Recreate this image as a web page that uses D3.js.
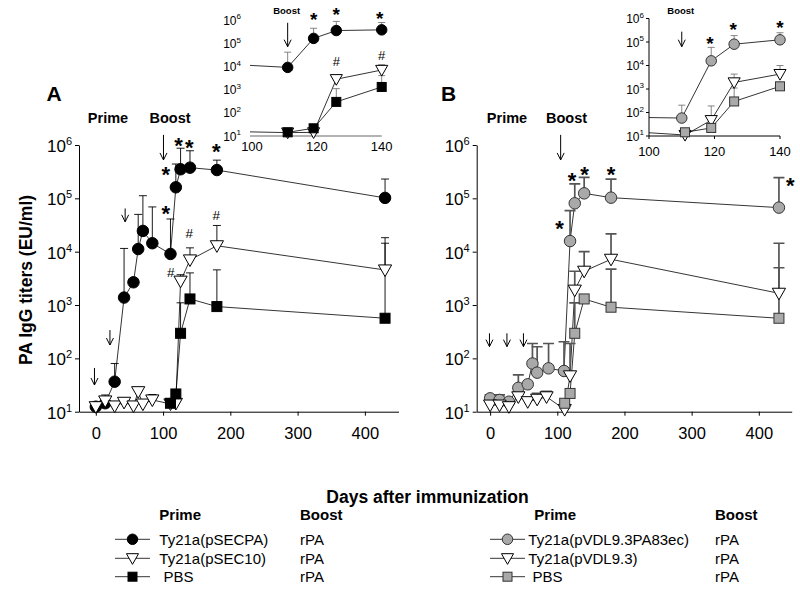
<!DOCTYPE html>
<html><head><meta charset="utf-8">
<script src="https://cdn.jsdelivr.net/npm/d3@7/dist/d3.min.js"></script>
<style>
body{margin:0;background:#fff}
svg{display:block}
text{font-family:"Liberation Sans",Arial,Helvetica,sans-serif;fill:#000}
</style>
</head><body>
<svg id="c" width="800" height="595"></svg>
<script>
// ---------------- DATA ----------------
// Panel A: Ty21a(pSECPA) (circles), Ty21a(pSEC10) (triangles), PBS (squares)
const daysA1  = [0,14,28,42,56,63,70,84,111,119,126,140,180,430];
const titerA1 = [12.4,14.4,36.5,1380,2670,11200,24500,14400,9060,161000,351000,376000,339000,102000];
const upperA1 = [null,null,80,11500,null,50000,112000,69000,41000,440000,870000,780000,520000,230000];
const daysA2  = [0,14,28,42,56,63,70,84,111,119,126,140,180,430];
const titerA2 = [12.4,15.9,12.8,15,12.8,23.7,13.9,16.6,14,14.3,2800,7000,12900,4540];
const upperA2 = [null,20.6,null,17.8,null,null,16.6,21,null,null,3700,11800,31000,18300];
const daysA3  = [111,119,126,140,180,430];
const titerA3 = [14.4,21.5,295,1300,935,565];
const upperA3 = [null,null,1100,4000,4560,14400];

// Panel B: Ty21a(pVDL9.3PA83ec) (circles), Ty21a(pVDL9.3) (triangles), PBS (squares)
const daysB1  = [0,14,28,42,56,63,70,87,110,119,126,140,180,430];
const titerB1 = [17.8,16.6,15.4,28,32.6,80,54,65,58,15800,80700,124000,103000,67000];
const upperB1 = [20.6,20.6,null,49,null,190,165,190,205,59000,187000,248000,230000,245000];
const daysB2  = [0,14,28,42,56,70,84,111,119,126,140,180,430];
const titerB2 = [13.3,13.3,12.4,19,15.4,17.1,19,11,47,1900,4300,7200,1660];
const upperB2 = [null,null,null,23,null,22,24,null,190,4300,10000,21500,14400];
const daysB3  = [111,119,126,140,180,430];
const titerB3 = [14.4,22,295,1300,910,565];
const upperB3 = [null,null,1100,null,4700,5000];

// axis ticks
const yTickExps = [1,2,3,4,5,6];
const xTicksMain = [0,100,200,300,400];
const xTicksInset = [100,120,140];

// annotations [day, log10(titer)]
const starsA = [[104,5.545],[104,4.81],[123,6.09],[139,6.06],[179,5.97]];
const hashA  = [[111.6,3.625],[139,4.35],[179,4.69]];
const starsB = [[103.3,4.53],[122,5.44],[140.5,5.55],[180,5.55],[447,5.345]];
const insetStarsA = [[119,6.2],[126,6.43],[139.4,6.26]];
const insetHashA  = [[126,4.2],[140,4.49]];
const insetStarsB = [[118.6,5.11],[125.7,5.72],[140,5.8]];
// dose arrows [day, log10 top, log10 tip]
const arrowsA = [[-2,1.82,1.5],[21,2.53,2.25],[43.6,4.81,4.56],[100.6,6.19,5.72]];
const arrowsB = [[-1,2.47,2.22],[25,2.47,2.22],[49.6,2.47,2.22],[105,6.19,5.72]];
const insetArrowA = [111,5.88,4.85];
const insetArrowB = [110,5.44,4.8];

// legend
const legendA = ["Ty21a(pSECPA)","Ty21a(pSEC10)","\u00a0PBS"];
const legendB = ["Ty21a(pVDL9.3PA83ec)","Ty21a(pVDL9.3)","\u00a0PBS"];
const boostLabel = "rPA";

// ---------------- DRAWING ----------------
const svg = d3.select("#c");
const GREY = "#a9a9a9";

function mk(days, v, up, shape, fill, stroke){
  return {pts: days.map((d,i)=>({d, v:v[i], u:up[i]})), shape, fill, stroke};
}
const seriesA = [
  mk(daysA1,titerA1,upperA1,"circle","#000","#000"),
  mk(daysA2,titerA2,upperA2,"tri","#fff","#000"),
  mk(daysA3,titerA3,upperA3,"square","#000","#000")];
const seriesB = [
  mk(daysB1,titerB1,upperB1,"circle",GREY,"#333"),
  mk(daysB2,titerB2,upperB2,"tri","#fff","#000"),
  mk(daysB3,titerB3,upperB3,"square",GREY,"#333")];

function drawMarker(g, shape, fill, stroke, s){
  if(shape==="circle") g.append("circle").attr("r",s/2);
  else if(shape==="square") g.append("rect").attr("x",-s/2+0.5).attr("y",-s/2+0.5).attr("width",s-1).attr("height",s-1);
  else g.append("path").attr("d",`M${-s*0.55},${-s*0.42}L${s*0.55},${-s*0.42}L0,${s*0.55}Z`);
  g.selectAll("*").attr("fill",fill).attr("stroke",stroke).attr("stroke-width",1);
}

function supLabel(g, x, y, exp, size, supSize){
  const t = g.append("text").attr("x",x).attr("y",y).attr("text-anchor","end")
    .style("font-size",size+"px");
  t.append("tspan").text("10");
  t.append("tspan").attr("dy",-size*0.42).style("font-size",supSize+"px").text(exp);
}

function arrow(g, x, y1, y2, hw, hh, w){
  g.append("path").attr("d",`M${x},${y1}L${x},${y2}M${x-hw},${y2-hh}L${x},${y2}L${x+hw},${y2-hh}`)
   .attr("fill","none").attr("stroke","#000").attr("stroke-width",w||1);
}

function glyph(g, x, yc, ch, size, bold){
  const off = ch==="*" ? size*0.58 : size*0.36;
  g.append("text").attr("x",x).attr("y",yc+off).attr("text-anchor","middle")
    .style("font-size",size+"px").style("font-weight",bold?"bold":"normal").text(ch);
}

function panel(cfg){
  const x = d3.scaleLinear().domain(cfg.xDomain).range(cfg.xRange);
  const y = d3.scaleLog().domain([10,1e6]).range([411.7,145]);
  const g = svg.append("g");
  const x0 = cfg.xRange[0];
  // y axis
  const ya = g.append("g").attr("transform",`translate(${x0},0)`)
    .call(d3.axisLeft(y).tickValues(yTickExps.map(e=>Math.pow(10,e))).tickSize(4).tickSizeOuter(0).tickFormat(""));
  ya.selectAll("path,line").attr("stroke","#000");
  yTickExps.forEach(e=> supLabel(g, x0-7, y(Math.pow(10,e))+7, e, 17, 11));
  // x axis
  const xa = g.append("g").attr("transform",`translate(0,${y(10)})`)
    .call(d3.axisBottom(x).tickValues(xTicksMain).tickSize(4).tickSizeOuter(0).tickPadding(12));
  xa.selectAll("path,line").attr("stroke","#000");
  xa.selectAll("text").style("font-size","16.5px").attr("fill","#000");

  const line = d3.line().x(p=>x(p.d)).y(p=>y(p.v));
  cfg.series.forEach(s=> g.append("path").attr("d",line(s.pts)).attr("fill","none")
     .attr("stroke","#000").attr("stroke-width",0.8));
  // error bars
  cfg.series.forEach(s=> s.pts.filter(p=>p.u).forEach(p=>{
    const cx=x(p.d);
    g.append("path").attr("d",`M${cx},${y(p.v)}L${cx},${y(p.u)}M${cx-cfg.cap},${y(p.u)}L${cx+cfg.cap},${y(p.u)}`)
      .attr("fill","none").attr("stroke",cfg.errColor).attr("stroke-width",cfg.errW);
  }));
  cfg.series.forEach(s=> s.pts.forEach(p=>{
    const m = g.append("g").attr("transform",`translate(${x(p.d)},${y(p.v)})`);
    drawMarker(m, s.shape, s.fill, s.stroke, s.shape==="circle"?11.5:(s.shape==="square"?11:12));
  }));
  cfg.stars.forEach(a=> glyph(g, x(a[0]), y(Math.pow(10,a[1])), "*", 22, true));
  (cfg.hashes||[]).forEach(a=> glyph(g, x(a[0]), y(Math.pow(10,a[1])), "#", 13.5, false));
  cfg.arrows.forEach(a=> arrow(g, x(a[0]), y(Math.pow(10,a[1])), y(Math.pow(10,a[2])), 3.5, 7, 1));
  // labels
  g.append("text").attr("x",cfg.letterX).attr("y",100.5).style("font-size","21px").style("font-weight","bold").text(cfg.letter);
  g.append("text").attr("x",cfg.primeX).attr("y",123).attr("text-anchor","middle").style("font-size","14.5px").style("font-weight","bold").text("Prime");
  g.append("text").attr("x",cfg.boostX).attr("y",123).attr("text-anchor","middle").style("font-size","14.5px").style("font-weight","bold").text("Boost");
}

function inset(cfg){
  const x = d3.scaleLinear().domain([100,140]).range(cfg.xRange);
  const y = d3.scaleLog().domain([10,1e6]).range(cfg.yRange);
  const g = svg.append("g");
  const clipId = "clip"+cfg.id;
  svg.append("clipPath").attr("id",clipId).append("rect")
     .attr("x",cfg.axisX).attr("y",0).attr("width",800-cfg.axisX).attr("height",cfg.yRange[0]+2);
  // axes
  if(cfg.showY){
    g.append("line").attr("x1",cfg.axisX).attr("x2",cfg.axisX).attr("y1",cfg.yRange[1]).attr("y2",cfg.yRange[0]).attr("stroke","#000");
    yTickExps.forEach(e=> g.append("line").attr("x1",cfg.axisX-3).attr("x2",cfg.axisX).attr("y1",y(Math.pow(10,e))).attr("y2",y(Math.pow(10,e))).attr("stroke","#000"));
  }
  g.append("line").attr("x1",cfg.axisX).attr("x2",cfg.xRange[1]).attr("y1",cfg.yRange[0]).attr("y2",cfg.yRange[0])
    .attr("stroke",cfg.xAxisColor).attr("stroke-width",cfg.xAxisW);
  if(cfg.showY) xTicksInset.forEach(t=> g.append("line").attr("x1",x(t)).attr("x2",x(t)).attr("y1",cfg.yRange[0]).attr("y2",cfg.yRange[0]+3).attr("stroke","#000"));
  yTickExps.forEach(e=> supLabel(g, cfg.axisX-cfg.labOff, y(Math.pow(10,e))+4.5, e, 12, 8));
  xTicksInset.forEach(t=> g.append("text").attr("x",x(t)).attr("y",cfg.yRange[0]+cfg.xLabDy).attr("text-anchor","middle").style("font-size","13px").text(t));

  const line = d3.line().x(p=>x(p.d)).y(p=>y(p.v));
  const lg = g.append("g").attr("clip-path",`url(#${clipId})`);
  cfg.series.forEach(s=>{
    const i0 = s.pts.findIndex(p=>p.d>=100);
    const sub = s.pts.slice(Math.max(0,i0-1)).filter(p=>p.d<=140);
    lg.append("path").attr("d",line(sub)).attr("fill","none").attr("stroke","#000").attr("stroke-width",0.8);
  });
  cfg.series.forEach(s=> s.pts.filter(p=>p.d>=100&&p.d<=140&&p.u).forEach(p=>{
    const cx=x(p.d);
    g.append("path").attr("d",`M${cx},${y(p.v)}L${cx},${y(p.u)}M${cx-3.5},${y(p.u)}L${cx+3.5},${y(p.u)}`)
      .attr("fill","none").attr("stroke","#777").attr("stroke-width",0.9);
  }));
  cfg.series.forEach(s=> s.pts.filter(p=>p.d>=100&&p.d<=140).forEach(p=>{
    const m = g.append("g").attr("transform",`translate(${x(p.d)},${y(p.v)})`);
    drawMarker(m, s.shape, s.fill, s.stroke, s.shape==="circle"?10.5:(s.shape==="square"?10:11));
  }));
  cfg.stars.forEach(a=> glyph(g, x(a[0]), y(Math.pow(10,a[1])), "*", 19, true));
  (cfg.hashes||[]).forEach(a=> glyph(g, x(a[0]), y(Math.pow(10,a[1])), "#", 13, false));
  const a = cfg.arrow;
  arrow(g, x(a[0]), y(Math.pow(10,a[1])), y(Math.pow(10,a[2])), 3.5, 7, 1);
  g.append("text").attr("x",x(a[0])-1).attr("y",14).attr("text-anchor","middle").style("font-size","9.5px").style("font-weight","bold").text("Boost");
}

panel({xDomain:[-25,450], xRange:[79,398.5], series:seriesA, cap:4, errColor:"#000", errW:0.9,
  stars:starsA, hashes:hashA, arrows:arrowsA, letter:"A", letterX:46.5, primeX:108, boostX:170});
panel({xDomain:[-20,449], xRange:[476.7,791.7], series:seriesB, cap:5.5, errColor:"#555", errW:1.7,
  stars:starsB, arrows:arrowsB, letter:"B", letterX:441, primeX:507, boostX:566.5});

inset({id:"A", xRange:[252,381.7], yRange:[136,20], axisX:250, showY:false, xAxisColor:"#9a9a9a", xAxisW:1.6,
  labOff:9, xLabDy:14.5, series:seriesA, stars:insetStarsA, hashes:insetHashA, arrow:insetArrowA});
inset({id:"B", xRange:[649,780], yRange:[136,18.5], axisX:649, showY:true, xAxisColor:"#000", xAxisW:1,
  labOff:5, xLabDy:19.5, series:seriesB, stars:insetStarsB, arrow:insetArrowB});

// axis titles
svg.append("text").attr("x",427.5).attr("y",503).attr("text-anchor","middle")
  .style("font-size","17.5px").style("font-weight","bold").text("Days after immunization");
svg.append("text").attr("transform","translate(32,280) rotate(-90)").attr("text-anchor","middle")
  .style("font-size","17.5px").style("font-weight","bold").text("PA IgG titers (EU/ml)");

// legends
function legend(labels, series, lineX0, lineX1, textX, headX, boostX){
  const rows = [539.3,558.3,576.7];
  svg.append("text").attr("x",headX).attr("y",519.5).style("font-size","15px").style("font-weight","bold").text("Prime");
  svg.append("text").attr("x",boostX).attr("y",519.5).style("font-size","15px").style("font-weight","bold").text("Boost");
  labels.forEach((lab,i)=>{
    const yy = rows[i];
    svg.append("line").attr("x1",lineX0).attr("x2",lineX1).attr("y1",yy).attr("y2",yy).attr("stroke","#000").attr("stroke-width",0.8);
    const m = svg.append("g").attr("transform",`translate(${(lineX0+lineX1)/2},${yy})`);
    const s = series[i];
    drawMarker(m, s.shape, s.fill, s.stroke, s.shape==="circle"?10.5:(s.shape==="square"?10:11));
    svg.append("text").attr("x",textX).attr("y",yy+5.5).style("font-size","15px").text(lab);
    svg.append("text").attr("x",boostX).attr("y",yy+5.5).style("font-size","15px").text(boostLabel);
  });
}
legend(legendA, seriesA, 115, 150, 159.3, 159.3, 300);
legend(legendB, seriesB, 490, 525, 528.3, 534.3, 715);
</script>
</body></html>
